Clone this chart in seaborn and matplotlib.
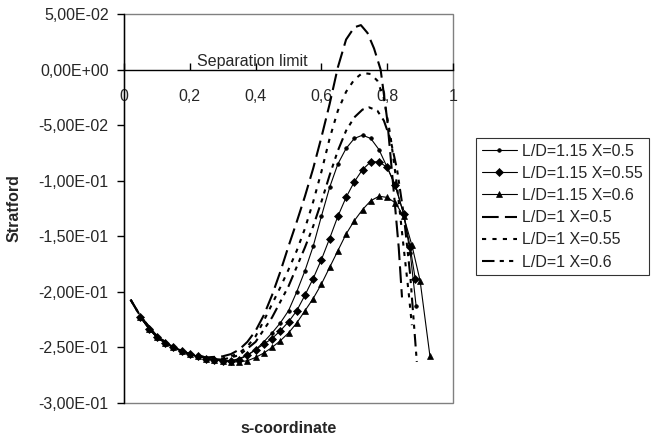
import numpy as np
import pandas as pd
import matplotlib
matplotlib.use("Agg")
import matplotlib.pyplot as plt
from matplotlib.patches import Rectangle
from matplotlib.ticker import FuncFormatter
import seaborn as sns

# ---------------- data ----------------
s_115_05 = [0.05, 0.075, 0.1, 0.125, 0.15, 0.175, 0.2, 0.225, 0.25, 0.275, 0.3, 0.325,
            0.35, 0.375, 0.4, 0.425, 0.45, 0.475, 0.5, 0.525, 0.55, 0.575, 0.6, 0.625,
            0.65, 0.675, 0.7, 0.725, 0.75, 0.775, 0.8, 0.825, 0.85, 0.87, 0.888]
y_115_05 = [-0.223, -0.233, -0.241, -0.246, -0.250, -0.253, -0.256, -0.258, -0.260, -0.261, -0.262, -0.262,
            -0.260, -0.257, -0.252, -0.245, -0.237, -0.228, -0.217, -0.200, -0.181, -0.159, -0.132, -0.106,
            -0.085, -0.071, -0.062, -0.059, -0.062, -0.072, -0.088, -0.105, -0.130, -0.165, -0.213]

s_115_055 = [0.05, 0.075, 0.1, 0.125, 0.15, 0.175, 0.2, 0.225, 0.25, 0.275, 0.3, 0.325,
             0.35, 0.375, 0.4, 0.425, 0.45, 0.475, 0.5, 0.525, 0.55, 0.575, 0.6, 0.625,
             0.65, 0.675, 0.7, 0.725, 0.75, 0.775, 0.8, 0.825, 0.85, 0.87, 0.885]
y_115_055 = [-0.223, -0.233, -0.241, -0.246, -0.250, -0.253, -0.256, -0.258, -0.260, -0.261, -0.262, -0.262,
             -0.261, -0.257, -0.252, -0.247, -0.242, -0.235, -0.227, -0.217, -0.203, -0.188, -0.171, -0.152,
             -0.132, -0.115, -0.101, -0.090, -0.083, -0.083, -0.088, -0.104, -0.130, -0.160, -0.188]

s_115_06 = [0.05, 0.075, 0.1, 0.125, 0.15, 0.175, 0.2, 0.225, 0.25, 0.275, 0.3, 0.325,
            0.35, 0.375, 0.4, 0.425, 0.45, 0.475, 0.5, 0.525, 0.55, 0.575, 0.6, 0.625,
            0.65, 0.675, 0.7, 0.725, 0.75, 0.775, 0.8, 0.825, 0.85, 0.875, 0.9, 0.93]
y_115_06 = [-0.223, -0.233, -0.241, -0.246, -0.250, -0.253, -0.256, -0.258, -0.260, -0.261, -0.262, -0.263,
            -0.263, -0.262, -0.259, -0.255, -0.250, -0.244, -0.237, -0.228, -0.217, -0.206, -0.193, -0.178,
            -0.163, -0.148, -0.136, -0.126, -0.118, -0.114, -0.115, -0.120, -0.132, -0.158, -0.190, -0.258]

s_1_05 = [0.02, 0.05, 0.1, 0.15, 0.2, 0.25, 0.3, 0.325, 0.35, 0.375, 0.4, 0.425, 0.45, 0.475,
          0.5, 0.525, 0.55, 0.575, 0.6, 0.625, 0.65, 0.675, 0.7, 0.72, 0.74, 0.76, 0.78,
          0.8, 0.82, 0.835, 0.845]
y_1_05 = [-0.207, -0.222, -0.240, -0.250, -0.256, -0.259, -0.258, -0.256, -0.252, -0.245, -0.235, -0.221,
          -0.203, -0.182, -0.159, -0.137, -0.114, -0.089, -0.061, -0.031, 0.002, 0.027, 0.038, 0.040,
          0.033, 0.019, 0.000, -0.045, -0.110, -0.160, -0.205]

s_1_055 = [0.02, 0.05, 0.1, 0.15, 0.2, 0.25, 0.3, 0.325, 0.35, 0.375, 0.4, 0.425, 0.45, 0.475,
           0.5, 0.525, 0.55, 0.575, 0.6, 0.625, 0.65, 0.675, 0.7, 0.725, 0.75, 0.77, 0.79,
           0.81, 0.83, 0.85, 0.865, 0.875]
y_1_055 = [-0.207, -0.222, -0.240, -0.250, -0.256, -0.259, -0.260, -0.258, -0.255, -0.249, -0.240, -0.226,
           -0.211, -0.196, -0.180, -0.163, -0.143, -0.119, -0.092, -0.062, -0.037, -0.020, -0.009, -0.003,
           -0.004, -0.010, -0.026, -0.060, -0.105, -0.160, -0.200, -0.230]

s_1_06 = [0.02, 0.05, 0.1, 0.15, 0.2, 0.25, 0.3, 0.35, 0.4, 0.45, 0.5, 0.55, 0.575, 0.6, 0.625,
          0.65, 0.675, 0.7, 0.725, 0.745, 0.77, 0.79, 0.81, 0.83, 0.85, 0.87, 0.89]
y_1_06 = [-0.207, -0.222, -0.240, -0.250, -0.256, -0.260, -0.261, -0.257, -0.245, -0.223, -0.195, -0.160,
          -0.141, -0.119, -0.095, -0.073, -0.055, -0.043, -0.036, -0.034, -0.037, -0.046, -0.063, -0.090,
          -0.130, -0.185, -0.263]

series_labels = ["L/D=1.15 X=0.5", "L/D=1.15 X=0.55", "L/D=1.15 X=0.6",
                 "L/D=1 X=0.5", "L/D=1 X=0.55", "L/D=1 X=0.6"]
y_ticks = [0.05, 0.0, -0.05, -0.1, -0.15, -0.2, -0.25, -0.3]
x_ticks = [0, 0.2, 0.4, 0.6, 0.8, 1]
x_tick_labels = ["0", "0,2", "0,4", "0,6", "0,8", "1"]
annotation = "Separation limit"

# ---------------- styling ----------------
sns.set_style("white")
plt.rcParams["font.family"] = ["Liberation Sans", "DejaVu Sans"]
FS = 11.5

fig = plt.figure(figsize=(6.58, 4.41), dpi=100)
ax = fig.add_axes([124 / 658, 1 - 403 / 441, 329 / 658, 389 / 441])

styles = [
    dict(lw=0.8, ls="-", marker="o", ms=2.6),
    dict(lw=0.8, ls="-", marker="D", ms=4.2),
    dict(lw=0.8, ls="-", marker="^", ms=3.8),
    dict(lw=1.5, ls=(0, (8, 3)), marker=None, ms=0),
    dict(lw=1.5, ls=(0, (2, 3)), marker=None, ms=0),
    dict(lw=1.5, ls=(0, (6, 2.5, 2, 2.5, 2, 2.5)), marker=None, ms=0),
]
data = [(s_115_05, y_115_05), (s_115_055, y_115_055), (s_115_06, y_115_06),
        (s_1_05, y_1_05), (s_1_055, y_1_055), (s_1_06, y_1_06)]

handles = []
for (xs, ys), lab, st in zip(data, series_labels, styles):
    df = pd.DataFrame({"s": xs, "Stratford": ys})
    sns.lineplot(data=df, x="s", y="Stratford", ax=ax, sort=False, estimator=None,
                 color="black", linewidth=st["lw"], linestyle=st["ls"],
                 marker=st["marker"] if st["marker"] else "", markersize=st["ms"],
                 markeredgewidth=0.5, markeredgecolor="black", label=lab, legend=False)
    handles.append(ax.lines[-1])

ax.set_xlim(0, 1)
ax.set_ylim(-0.3, 0.05)
ax.set_yticks(y_ticks)
ax.yaxis.set_major_formatter(FuncFormatter(lambda v, p: f"{v:.2E}".replace(".", ",")))
ax.set_xticks(x_ticks)
ax.set_xticklabels(x_tick_labels)

# spines: y axis black at left, x axis at y=0, plot-area border gray
for sp in ["top", "right"]:
    ax.spines[sp].set_visible(False)
ax.spines["left"].set_color("black")
ax.spines["left"].set_linewidth(1.0)
ax.spines["bottom"].set_position(("data", 0))
ax.spines["bottom"].set_color("black")
ax.spines["bottom"].set_linewidth(1.0)
ax.add_patch(Rectangle((0, 0), 1, 1, transform=ax.transAxes, fill=False,
                       edgecolor="#808080", lw=1.0, clip_on=False, zorder=0))

ax.tick_params(axis="y", direction="out", length=5, width=1, color="black",
               labelsize=FS, pad=6, left=True)
ax.tick_params(axis="x", direction="in", length=5, width=1, color="black",
               labelsize=FS, pad=14, bottom=True)

ax.set_xlabel("s-coordinate", fontsize=FS, fontweight="bold")
ax.set_ylabel("Stratford", fontsize=FS, fontweight="bold")
ax.xaxis.set_label_coords(0.5, -0.045)
ax.yaxis.set_label_coords(-0.31, 0.5)

ax.text(0.222, 0.003, annotation, fontsize=FS, ha="left", va="baseline")

leg = fig.legend(handles=handles, labels=series_labels, loc="upper left",
                 bbox_to_anchor=(476 / 658, 1 - 138 / 441), frameon=True,
                 fancybox=False, edgecolor="black", fontsize=FS,
                 handlelength=2.2, handletextpad=0.35, labelspacing=0.45,
                 borderpad=0.35, borderaxespad=0)
leg.get_frame().set_linewidth(0.8)

fig.savefig("out.png", dpi=100)
